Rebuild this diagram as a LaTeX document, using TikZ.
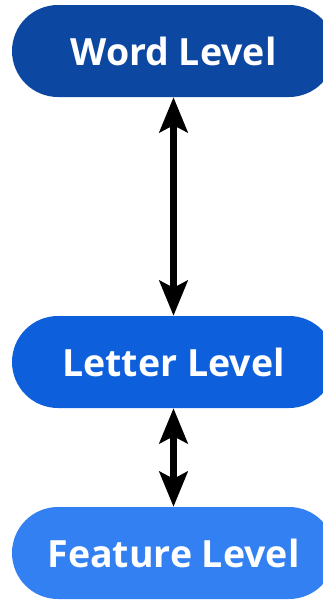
\documentclass[tikz,border=0pt]{standalone}
\usepackage{fontspec}
\setmainfont{Open Sans}
\usetikzlibrary{arrows.meta}
\definecolor{wordblue}{HTML}{0C47A1}
\definecolor{letterblue}{HTML}{0E5FDC}
\definecolor{featureblue}{HTML}{3380F2}
\tikzset{
  level/.style={rectangle, rounded corners=46pt, minimum width=323pt,
    minimum height=92pt, inner sep=0pt, text=white,
    font=\fontsize{37.5}{42}\selectfont\bfseries},
  link/.style={line width=7pt, {Stealth[length=35pt,width=28pt,inset=7pt]}-{Stealth[length=35pt,width=28pt,inset=7pt]}}
}
\begin{document}
\begin{tikzpicture}[x=1pt,y=-1pt]
  \useasboundingbox (0,0) rectangle (323,600);
  \clip (0,0) rectangle (323,600);
  \node[level, fill=wordblue] (word) at (173.5,51) {Word Level};
  \node[level, fill=letterblue] (letter) at (173.5,362) {Letter Level};
  \node[level, fill=featureblue] (feature) at (173.5,553) {Feature Level};
  \draw[link] (word) -- (letter);
  \draw[link] (letter) -- (feature);
\end{tikzpicture}
\end{document}
